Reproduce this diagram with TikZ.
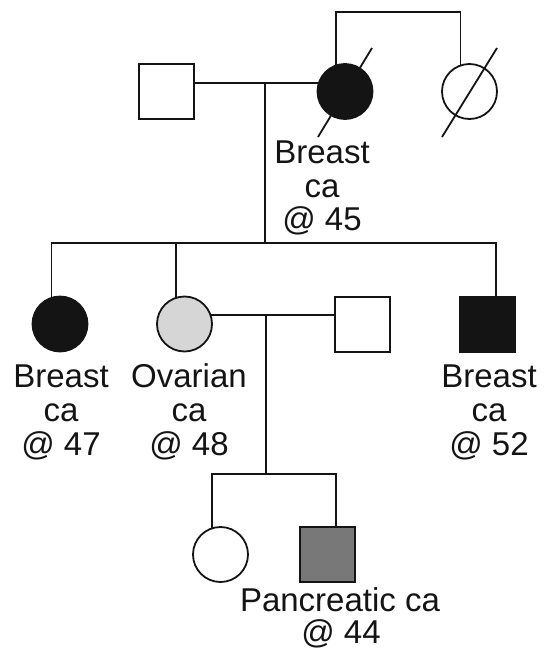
\documentclass[tikz,border=0pt]{standalone}
\usepackage{fontspec}
\setmainfont{Liberation Sans}
\usetikzlibrary{calc}
\definecolor{inkline}{gray}{0.08}
\definecolor{palegrey}{gray}{0.84}
\definecolor{darkgrey}{gray}{0.47}
\begin{document}
\begin{tikzpicture}[x=1pt,y=-1pt,
  line width=1.8pt, draw=inkline,
  person/.style={draw=inkline, line width=1.8pt, minimum size=55pt, inner sep=0pt, outer sep=0pt},
  female/.style={person, circle},
  male/.style={person, rectangle},
  affected/.style={fill=inkline},
  lbl/.style={anchor=base, inner sep=0pt, text=inkline, font=\fontsize{33}{35}\selectfont}
]
\useasboundingbox (0,0) rectangle (545,651);

% generation I
\node[male] (gf) at (166.5,91.5) {};
\node[female, affected] (gm) at (345,91.5) {};
\node[female] (ga) at (469.5,91.5) {};
\coordinate (m1) at (265,83);
\coordinate (top) at (336,12);
\draw (gf.east |- m1) -- (gm.162);
\draw (gm.109) -- (gm.109 |- top) -| (ga.109);
% deceased marks
\draw ($(gm)+(-27,45.5)$) -- ($(gm)+(27,-43.5)$);
\draw ($(ga)+(-27.5,45.5)$) -- ($(ga)+(27.5,-43.5)$);
\node[lbl] (t1a) at (322,163) {Breast};
\node[lbl] (t1b) at (322,197) {ca};
\node[lbl] (t1c) at (322,230) {@ 45};

% generation II
\node[female, affected] (d1) at (60,324) {};
\node[female, fill=palegrey] (d2) at (184.5,324) {};
\node[male] (sp) at (362.5,324.5) {};
\node[male, affected] (son) at (487.5,324.5) {};
\coordinate (s1) at (265,243);
\draw (m1) -- (s1);
\draw (d1.108) -- (d1.108 |- s1) -- ($(son.north |- s1)+(8.5,0)$) -- ($(son.north)+(8.5,0)$);
\draw (d2.108) -- (d2.108 |- s1);
\coordinate (m2) at (266,315);
\draw (d2.19) -- (d2.19 -| sp.west);
\node[lbl] (t2a) at (61,387) {Breast};
\node[lbl] (t2b) at (61,421) {ca};
\node[lbl] (t2c) at (61,455) {@ 47};
\node[lbl] (t3a) at (189,387) {Ovarian};
\node[lbl] (t3b) at (189,421) {ca};
\node[lbl] (t3c) at (189,455) {@ 48};
\node[lbl] (t4a) at (489,387) {Breast};
\node[lbl] (t4b) at (489,421) {ca};
\node[lbl] (t4c) at (489,455) {@ 52};

% generation III
\node[female] (g1) at (220.5,554.5) {};
\node[male, fill=darkgrey] (g2) at (327.5,554.5) {};
\coordinate (s3) at (266,474);
\draw (m2) -- (s3);
\draw (g1.108) -- (g1.108 |- s3) -- ($(g2.north |- s3)+(8.5,0)$) -- ($(g2.north)+(8.5,0)$);
\node[lbl] (t5a) at (340,611) {Pancreatic ca};
\node[lbl] (t5b) at (341,643) {@ 44};
\end{tikzpicture}
\end{document}
